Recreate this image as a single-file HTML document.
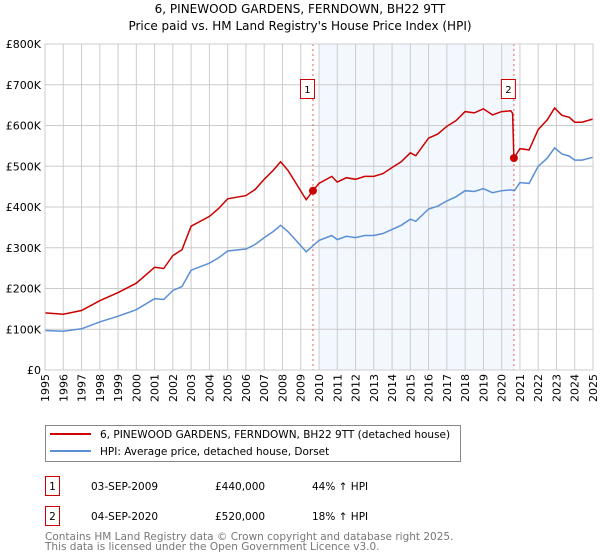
<!DOCTYPE html>
<html><head><meta charset="utf-8"><style>
body{margin:0;background:#fff;font-family:"DejaVu Sans","Liberation Sans",sans-serif;}
svg{display:block}
</style></head><body>
<svg id="c" width="600" height="560" font-family="DejaVu Sans, Liberation Sans, sans-serif">
<text x="300" y="13" text-anchor="middle" font-size="12" fill="#000">6, PINEWOOD GARDENS, FERNDOWN, BH22 9TT</text>
<text x="300" y="30" text-anchor="middle" font-size="12" fill="#000">Price paid vs. HM Land Registry's House Price Index (HPI)</text>
<g id="grid"></g><g id="marks"></g>
<g>
<rect x="45.5" y="425.5" width="415" height="36" fill="#fff" stroke="#888"/>
<line x1="50" y1="434" x2="91" y2="434" stroke="#cc0000" stroke-width="2"/>
<text x="100" y="438" font-size="10.5">6, PINEWOOD GARDENS, FERNDOWN, BH22 9TT (detached house)</text>
<line x1="50" y1="451" x2="91" y2="451" stroke="#5b8fd4" stroke-width="2"/>
<text x="100" y="455" font-size="10.5">HPI: Average price, detached house, Dorset</text>
</g>
<g font-size="10.5">
<rect x="45.5" y="476.5" width="14" height="19" fill="#fff" stroke="#cc0000"/><text x="52.5" y="490" text-anchor="middle">1</text>
<text x="91" y="490">03-SEP-2009</text><text x="215" y="490">£440,000</text><text x="312" y="490">44% ↑ HPI</text>
<rect x="45.5" y="506.5" width="14" height="19" fill="#fff" stroke="#cc0000"/><text x="52.5" y="520" text-anchor="middle">2</text>
<text x="91" y="520">04-SEP-2020</text><text x="215" y="520">£520,000</text><text x="312" y="520">18% ↑ HPI</text>
</g>
<text x="45" y="540" font-size="10.5" fill="#777">Contains HM Land Registry data © Crown copyright and database right 2025.</text>
<text x="45" y="550" font-size="10.5" fill="#777">This data is licensed under the Open Government Licence v3.0.</text>
</svg>
<script>
const yTicks=[0,100,200,300,400,500,600,700,800];
const yLabels=["£0","£100K","£200K","£300K","£400K","£500K","£600K","£700K","£800K"];
const years=[1995,1996,1997,1998,1999,2000,2001,2002,2003,2004,2005,2006,2007,2008,2009,2010,2011,2012,2013,2014,2015,2016,2017,2018,2019,2020,2021,2022,2023,2024,2025];
const hpiT=[1995,1996,1997,1998,1999,2000,2001,2001.5,2002,2002.5,2003,2004,2004.5,2005,2006,2006.5,2007,2007.5,2007.9,2008.3,2008.7,2009.1,2009.3,2009.67,2010,2010.7,2011,2011.5,2012,2012.5,2013,2013.5,2014,2014.5,2015,2015.3,2016,2016.5,2017,2017.5,2018,2018.5,2019,2019.5,2020,2020.5,2020.7,2021,2021.5,2022,2022.5,2022.9,2023.3,2023.7,2024,2024.4,2025];
const hpiV=[97,95,101,118,132,148,175,173,195,205,245,262,275,292,297,308,325,340,355,340,320,300,290,305,318,330,320,328,325,330,330,335,345,355,370,365,395,402,415,425,440,438,445,435,440,442,440,460,458,500,520,545,530,525,515,515,522];
const redT=[1995,1996,1997,1998,1999,2000,2001,2001.5,2002,2002.5,2003,2004,2004.5,2005,2006,2006.5,2007,2007.5,2007.9,2008.3,2008.7,2009.1,2009.3,2009.67,2010,2010.7,2011,2011.5,2012,2012.5,2013,2013.5,2014,2014.5,2015,2015.3,2016,2016.5,2017,2017.5,2018,2018.5,2019,2019.5,2020,2020.5,2020.6,2020.67,2021,2021.5,2022,2022.5,2022.9,2023.3,2023.7,2024,2024.4,2025];
const redV=[140,137,146,170,190,213,252,249,281,295,353,377,396,420,428,443,468,490,511,490,461,432,418,440,458,475,461,472,468,475,475,482,497,511,533,526,569,579,598,612,634,631,641,626,634,636,630,520,543,540,590,614,643,625,620,608,608,616];
const saleT=[2009.67,2020.67];
const saleV=[440,520];
const saleLabels=["1","2"];
const NS="http://www.w3.org/2000/svg";
const X0=45,X1=593,Y0=370,Y1=44;
const xs=t=>X0+(t-1995)/30*(X1-X0);
const ys=v=>Y0-v/800*(Y0-Y1);
function mk(tag,attrs,parent){const e=document.createElementNS(NS,tag);for(const k in attrs)e.setAttribute(k,attrs[k]);parent.appendChild(e);return e;}
const grid=document.getElementById('grid'),marks=document.getElementById('marks');
const sh=mk('rect',{x:xs(2010),y:Y1,width:xs(saleT[1])-xs(2010),height:Y0-Y1,fill:'#eef3fd',opacity:0.7},grid);


years.forEach(y=>{const l=mk('line',{x1:xs(y),x2:xs(y),y1:Y1,y2:Y0,stroke:'#ccc'},grid);


const t=mk('text',{x:0,y:0,'font-size':11,transform:`translate(${xs(y)+4},${Y0+32}) rotate(-90)`},grid);t.textContent=y;

});
yTicks.forEach((v,i)=>{const l=mk('line',{x1:X0,x2:X1,y1:ys(v),y2:ys(v),stroke:'#ccc'},grid);


const t=mk('text',{x:X0-4,y:ys(v)+4,'font-size':11,'text-anchor':'end'},grid);t.textContent=yLabels[i];

});
saleT.forEach((t,i)=>{const l=mk('line',{x1:xs(t),x2:xs(t),y1:Y1,y2:Y0,stroke:'#e06060','stroke-dasharray':'2,3'},marks);


const r=mk('rect',{x:xs(t)-12.5,y:79.5,width:14,height:19,fill:'#fff',stroke:'#cc0000'},marks);


const tx=mk('text',{x:xs(t)-5.5,y:93,'font-size':10,'text-anchor':'middle'},marks);tx.textContent=saleLabels[i];

});
const path=(T,V)=>T.map((t,i)=>(i?'L':'M')+xs(t).toFixed(1)+','+ys(V[i]).toFixed(1)).join('');
const hp=mk('path',{d:path(hpiT,hpiV),fill:'none',stroke:'#5b8fd4','stroke-width':1.5},marks);


const rp=mk('path',{d:path(redT,redV),fill:'none',stroke:'#cc0000','stroke-width':1.5},marks);


saleT.forEach((t,i)=>{const c=mk('circle',{cx:xs(t),cy:ys(saleV[i]),r:4,fill:'#cc0000'},marks);

});
const fr=mk('rect',{x:X0,y:Y1,width:X1-X0,height:Y0-Y1,fill:'none',stroke:'#ccc'},marks);


</script>
</body></html>
